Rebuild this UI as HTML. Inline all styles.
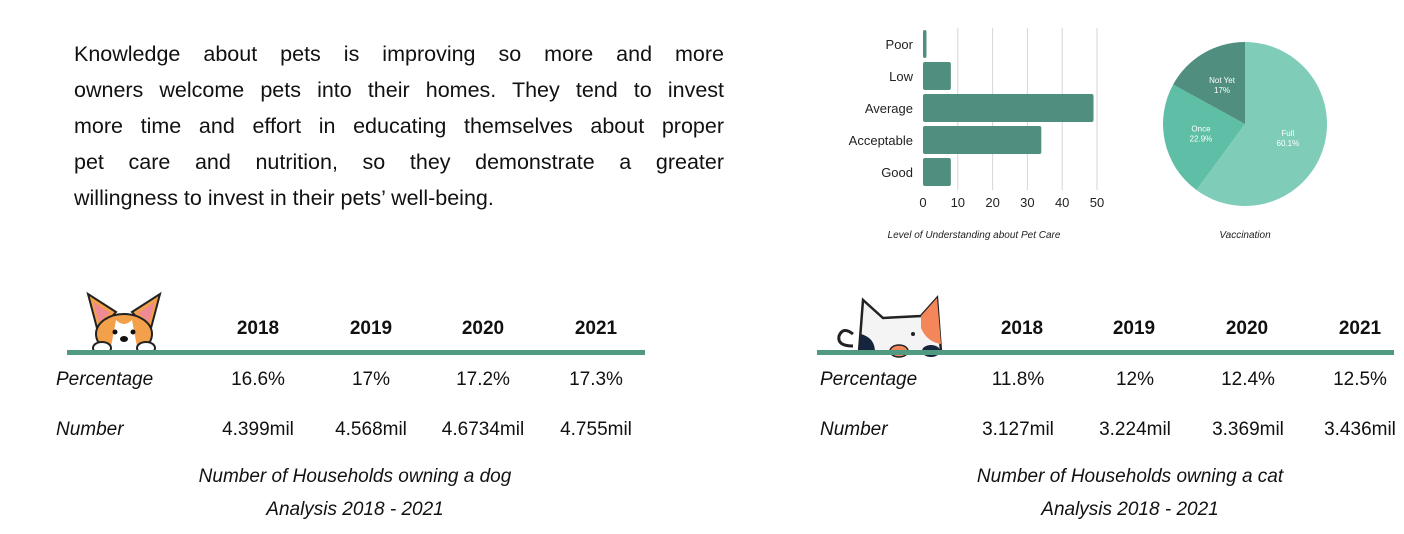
<!DOCTYPE html>
<html><head><meta charset="utf-8"><style>
body{margin:0;width:1404px;height:534px;background:#fff;font-family:"Liberation Sans",sans-serif;color:#111;position:relative;overflow:hidden}
.abs{position:absolute}
.para{left:74px;top:36px;width:650px;font-size:21.5px;line-height:36px}
.para div{text-align:justify;text-align-last:justify;white-space:nowrap}
.para div.last{text-align-last:left}
.yr{font-size:19px;font-weight:bold;transform:translateX(-50%);top:318px}
.val{font-size:19px;transform:translateX(-50%)}
.lab{font-size:19px;font-style:italic}
.cap{font-size:19px;font-style:italic;transform:translateX(-50%);text-align:center;line-height:33px;top:460px;white-space:nowrap}
.line{height:5px;background:#4f9a80;top:350px}
</style></head><body>
<div class="abs para">
<div style="word-spacing:2px">Knowledge about pets is improving so more and more</div>
<div>owners welcome pets into their homes. They tend to invest</div>
<div>more time and effort in educating themselves about proper</div>
<div>pet care and nutrition, so they demonstrate a greater</div>
<div class="last">willingness to invest in their pets’ well-being.</div>
</div>

<svg class="abs" style="left:0;top:0" width="1404" height="260">
<g id="bars"></g>
<g id="pie"></g>
<text x="974" y="238" font-size="10" font-style="italic" text-anchor="middle" fill="#222">Level of Understanding about Pet Care</text>
<text x="1245" y="238" font-size="10" font-style="italic" text-anchor="middle" fill="#222">Vaccination</text>
</svg>

<!-- dog section -->
<svg class="abs" style="left:84px;top:290px" width="82" height="64">
<path d="M14 42 L4 4 L32 22 Z" fill="#f3a04a" stroke="#222" stroke-width="2"/>
<path d="M66 42 L76 4 L48 22 Z" fill="#f3a04a" stroke="#222" stroke-width="2"/>
<path d="M15 32 L9 12 L26 23 Z" fill="#ee8a94"/><path d="M65 32 L71 12 L54 23 Z" fill="#ee8a94"/>
<ellipse cx="40" cy="44" rx="28" ry="20" fill="#f3a04a" stroke="#222" stroke-width="2"/>
<path d="M32 30 Q40 38 48 30 L54 62 L26 62 Z" fill="#fff"/>
<circle cx="31" cy="42" r="2.5" fill="#111"/><circle cx="49" cy="42" r="2.5" fill="#111"/>
<ellipse cx="40" cy="49" rx="4" ry="3" fill="#111"/>
<ellipse cx="18" cy="58" rx="9" ry="6" fill="#fff" stroke="#222" stroke-width="2"/>
<ellipse cx="62" cy="58" rx="9" ry="6" fill="#fff" stroke="#222" stroke-width="2"/>
</svg>
<div class="abs line" style="left:67px;width:578px"></div>
<div class="abs yr" style="left:258px">2018</div>
<div class="abs yr" style="left:371px">2019</div>
<div class="abs yr" style="left:483px">2020</div>
<div class="abs yr" style="left:596px">2021</div>
<div class="abs lab" style="left:56px;top:369px">Percentage</div>
<div class="abs lab" style="left:56px;top:419px">Number</div>
<div class="abs val" style="left:258px;top:369px">16.6%</div>
<div class="abs val" style="left:371px;top:369px">17%</div>
<div class="abs val" style="left:483px;top:369px">17.2%</div>
<div class="abs val" style="left:596px;top:369px">17.3%</div>
<div class="abs val" style="left:258px;top:419px">4.399mil</div>
<div class="abs val" style="left:371px;top:419px">4.568mil</div>
<div class="abs val" style="left:483px;top:419px">4.6734mil</div>
<div class="abs val" style="left:596px;top:419px">4.755mil</div>
<div class="abs cap" style="left:355px">Number of Households owning a dog<br>Analysis 2018 - 2021</div>

<!-- cat section -->
<svg class="abs" style="left:833px;top:294px" width="112" height="64">
<path d="M20 52 Q4 52 6 42 Q10 32 20 40" fill="none" stroke="#222" stroke-width="3"/>
<path d="M26 58 L30 6 L50 24 L88 22 L104 4 L108 58 Z" fill="#f4f4f4" stroke="#222" stroke-width="2.5"/>
<path d="M88 22 L104 4 L108 50 Q94 48 88 34 Z" fill="#f3875a"/>
<path d="M26 58 L28 40 Q42 44 42 58 Z" fill="#15253d"/>
<ellipse cx="66" cy="57" rx="9" ry="6" fill="#f3875a" stroke="#222" stroke-width="1.5"/>
<ellipse cx="98" cy="57" rx="9" ry="6" fill="#15253d"/>
<circle cx="80" cy="40" r="2" fill="#222"/>
</svg>
<div class="abs line" style="left:817px;width:577px"></div>
<div class="abs yr" style="left:1022px">2018</div>
<div class="abs yr" style="left:1134px">2019</div>
<div class="abs yr" style="left:1247px">2020</div>
<div class="abs yr" style="left:1360px">2021</div>
<div class="abs lab" style="left:820px;top:369px">Percentage</div>
<div class="abs lab" style="left:820px;top:419px">Number</div>
<div class="abs val" style="left:1018px;top:369px">11.8%</div>
<div class="abs val" style="left:1135px;top:369px">12%</div>
<div class="abs val" style="left:1248px;top:369px">12.4%</div>
<div class="abs val" style="left:1360px;top:369px">12.5%</div>
<div class="abs val" style="left:1018px;top:419px">3.127mil</div>
<div class="abs val" style="left:1135px;top:419px">3.224mil</div>
<div class="abs val" style="left:1248px;top:419px">3.369mil</div>
<div class="abs val" style="left:1360px;top:419px">3.436mil</div>
<div class="abs cap" style="left:1130px">Number of Households owning a cat<br>Analysis 2018 - 2021</div>

<script>
const barCategories=["Poor","Low","Average","Acceptable","Good"];
const barValues=[1,8,49,34,8];
const xTicks=[0,10,20,30,40,50];
const pieLabels=["Full","Once","Not Yet"];
const pieValues=[60.1,22.9,17];
const pieColors=["#7fcdb8","#5fbea6","#508f80"];
const NS="http://www.w3.org/2000/svg";
function mk(t,a,p){const e=document.createElementNS(NS,t);for(const k in a)e.setAttribute(k,a[k]);p.appendChild(e);return e;}
const bg=document.getElementById('bars');
const x=v=>923+v*3.48, bandTop=28, band=32;
xTicks.forEach(t=>{
  if(t>0){const l=mk('line',{x1:x(t),x2:x(t),y1:28,y2:190,stroke:'#d6d6d6','stroke-width':1},bg);
  
  }
  const tx=mk('text',{x:x(t),y:207,'font-size':13,'text-anchor':'middle',fill:'#222'},bg);tx.textContent=t;
  
  
});
barCategories.forEach((c,i)=>{
  const y=bandTop+i*band;
  const r=mk('rect',{x:x(0),y:y+2,width:x(barValues[i])-x(0),height:band-4,rx:2,fill:'#508f80'},bg);
  
  
  const t=mk('text',{x:913,y:y+band/2+5,'font-size':13,'text-anchor':'end',fill:'#222'},bg);t.textContent=c;
  
  
});
const pg=document.getElementById('pie');
const cx=1245,cy=124,R=82;const tot=pieValues.reduce((a,b)=>a+b,0);let a0=0;
pieValues.forEach((v,i)=>{
  const a1=a0+v/tot*2*Math.PI;
  const p=(a)=>[cx+R*Math.sin(a),cy-R*Math.cos(a)];
  const [x0,y0]=p(a0),[x1,y1]=p(a1);
  const s=mk('path',{d:`M${cx},${cy}L${x0},${y0}A${R},${R} 0 ${a1-a0>Math.PI?1:0} 1 ${x1},${y1}Z`,fill:pieColors[i]},pg);
  
  
  const m=(a0+a1)/2,lr=R*0.55;
  const lx=cx+lr*Math.sin(m),ly=cy-lr*Math.cos(m);
  const t1=mk('text',{x:lx,y:ly-2,'font-size':8,'text-anchor':'middle',fill:'#fff'},pg);t1.textContent=pieLabels[i];
  
  
  const t2=mk('text',{x:lx,y:ly+8,'font-size':8,'text-anchor':'middle',fill:'#fff'},pg);t2.textContent=v+'%';
  
  
  a0=a1;
});
</script>
</body></html>
